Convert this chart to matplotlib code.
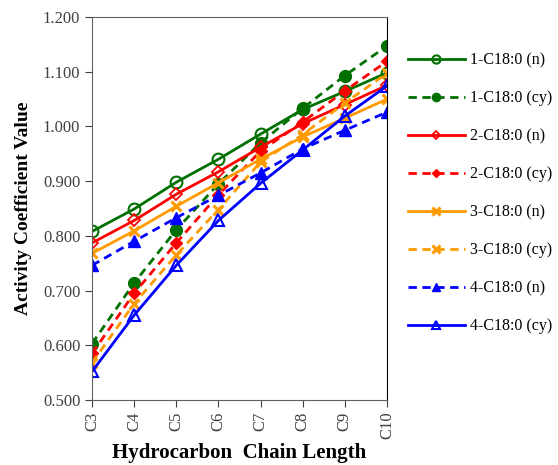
import numpy as np
import matplotlib.pyplot as plt

plt.rcParams['font.family'] = ['Liberation Serif', 'DejaVu Serif']

# ---- data ----
chains = ["C3", "C4", "C5", "C6", "C7", "C8", "C9", "C10"]

c1_n = [0.808, 0.849, 0.898, 0.940, 0.986, 1.031, 1.064, 1.098]
c1_cy = [0.603, 0.714, 0.811, 0.895, 0.970, 1.033, 1.093, 1.147]
c2_n = [0.787, 0.828, 0.876, 0.917, 0.962, 1.005, 1.040, 1.075]
c2_cy = [0.585, 0.695, 0.787, 0.875, 0.955, 1.008, 1.065, 1.119]
c3_n = [0.768, 0.809, 0.854, 0.897, 0.940, 0.981, 1.015, 1.050]
c3_cy = [0.568, 0.676, 0.765, 0.848, 0.935, 0.985, 1.043, 1.097]
c4_n = [0.746, 0.790, 0.833, 0.874, 0.915, 0.959, 0.993, 1.026]
c4_cy = [0.552, 0.655, 0.746, 0.828, 0.896, 0.957, 1.019, 1.074]

labels = ["1-C18:0 (n)", "1-C18:0 (cy)", "2-C18:0 (n)", "2-C18:0 (cy)",
          "3-C18:0 (n)", "3-C18:0 (cy)", "4-C18:0 (n)", "4-C18:0 (cy)"]

green = "#007000"
red = "#FF0000"
orange = "#FF9A00"
blue = "#0000FF"

x = np.arange(len(chains))

fig = plt.figure(figsize=(5.58, 4.65), dpi=100)
ax = fig.add_axes([0.165, 0.14, 0.5285, 0.8234])

lw = 2.0
ax.plot(x, c1_n, color=green, lw=lw, ls='-', marker='o', ms=8.5, mfc='none', mew=1.5, label=labels[0])
ax.plot(x, c1_cy, color=green, lw=lw, ls=(0, (3, 2)), marker='o', ms=8.5, mfc=green, label=labels[1])
ax.plot(x, c2_n, color=red, lw=lw, ls='-', marker='D', ms=6.5, mfc='none', mew=1.3, label=labels[2])
ax.plot(x, c2_cy, color=red, lw=lw, ls=(0, (3, 2)), marker='D', ms=6.5, mfc=red, label=labels[3])
ax.plot(x, c3_n, color=orange, lw=lw, ls='-', marker='x', ms=7.5, mew=2.2, label=labels[4])
ax.plot(x, c3_cy, color=orange, lw=lw, ls=(0, (3, 2)), marker='x', ms=7.5, mew=2.2, label=labels[5])
ax.plot(x, c4_n, color=blue, lw=lw, ls=(0, (3, 2)), marker='^', ms=8.5, mfc=blue, label=labels[6])
ax.plot(x, c4_cy, color=blue, lw=lw, ls='-', marker='^', ms=8.5, mfc='none', mew=1.5, label=labels[7])

ax.set_xlim(0, len(chains) - 1)
ax.set_ylim(0.5, 1.2)
ax.set_xticks(x)
ax.set_xticklabels(chains, rotation=90, fontsize=12, color='#404040')
ax.set_yticks(np.arange(0.5, 1.201, 0.1))
ax.set_yticklabels([f"{v:.3f}" for v in np.arange(0.5, 1.201, 0.1)], fontsize=12, color='#404040')
ax.tick_params(axis='both', direction='out', length=5, color='#404040')

for side in ['left', 'bottom', 'top']:
    ax.spines[side].set_color('#606060')
ax.spines['right'].set_color('black')

ax.set_xlabel("Hydrocarbon  Chain Length", fontsize=15, fontweight='bold', labelpad=3)
ax.set_ylabel("Activity Coefficient Value", fontsize=14, fontweight='bold', labelpad=8)

leg = ax.legend(loc='upper left', bbox_to_anchor=(1.05, 0.925), frameon=False,
                fontsize=11.5, handlelength=3.55, labelspacing=1.38, markerscale=0.7,
                handletextpad=0.3, borderaxespad=0)

plt.savefig("out.png", dpi=100)
